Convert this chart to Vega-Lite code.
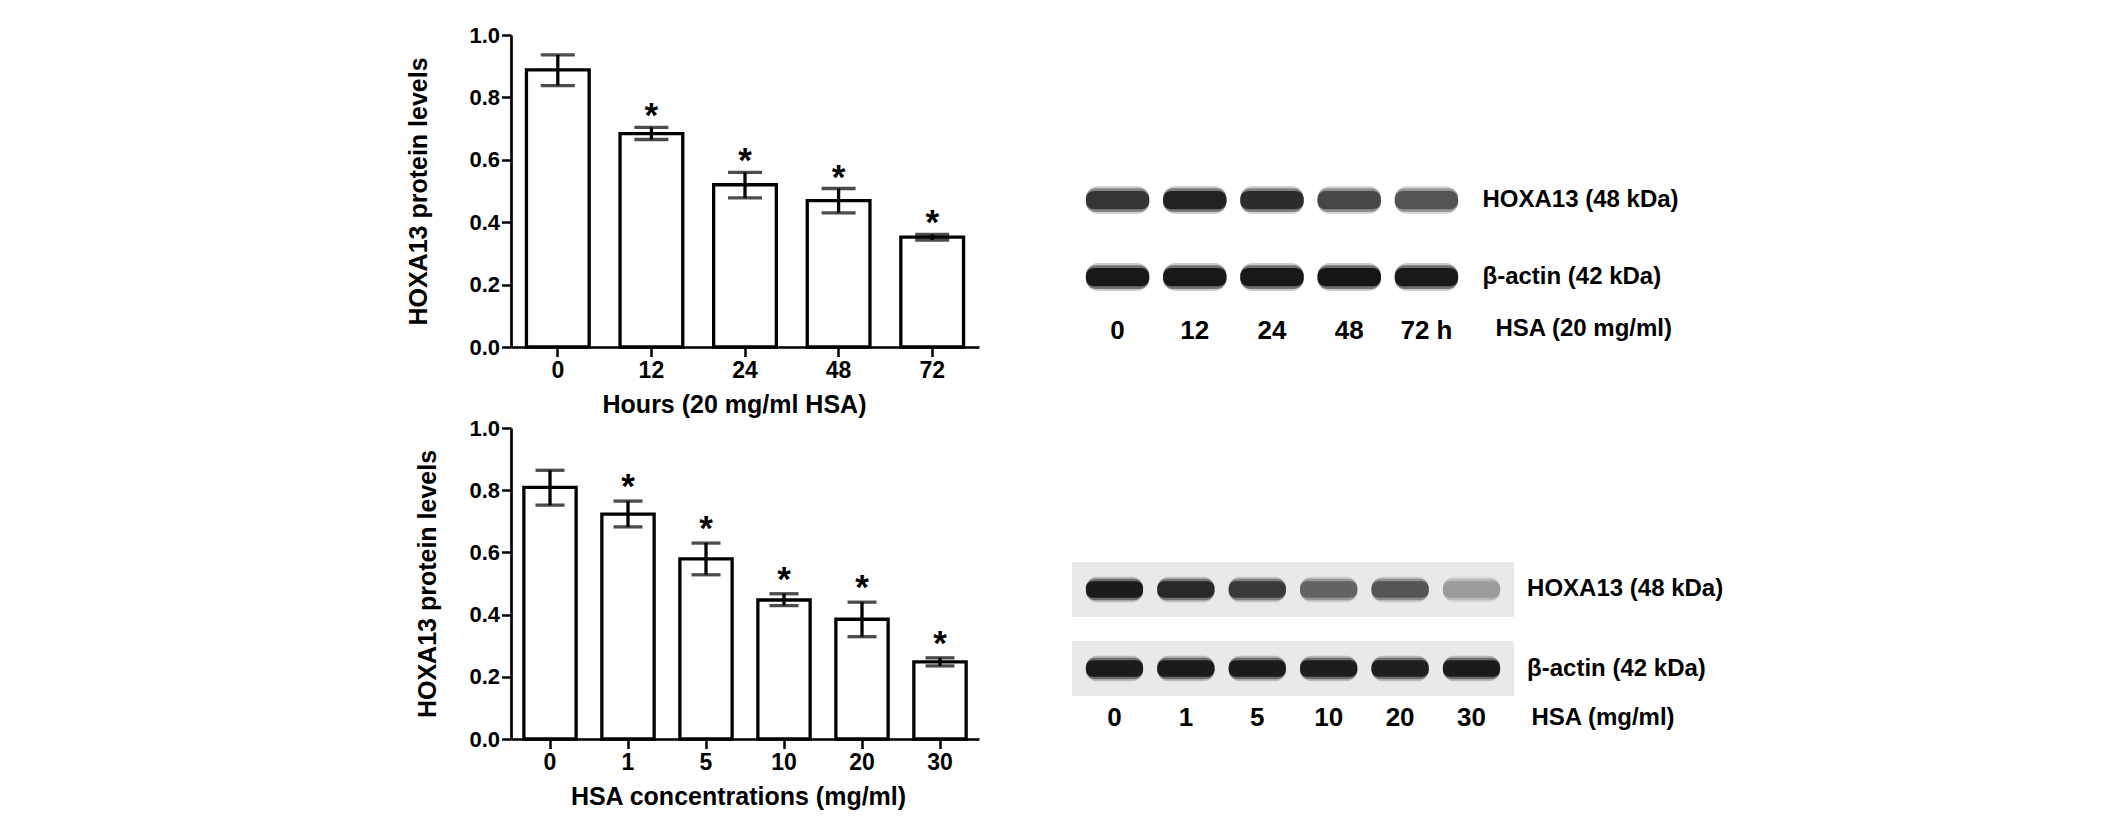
{
  "$schema": "https://vega.github.io/schema/vega-lite/v6.json",
  "background": "white",
  "padding": {"left": 406, "top": 24, "right": 5, "bottom": 5},
  "columns": 2,
  "bounds": "flush",
  "align": "each",
  "spacing": {"row": 81, "column": 93},
  "config": {
    "view": {"stroke": null},
    "font": "Liberation Sans",
    "axis": {
      "labelFont": "Liberation Sans", "titleFont": "Liberation Sans",
      "labelFontWeight": "bold", "titleFontWeight": "bold",
      "labelColor": "black", "titleColor": "black",
      "domainColor": "black", "tickColor": "black", "grid": false, "labelLimit": 400
    },
    "text": {"font": "Liberation Sans"}
  },
  "datasets": {
    "time": [
      {"group": "0", "mean": 0.888, "lo": 0.838, "hi": 0.936, "sig": ""},
      {"group": "12", "mean": 0.684, "lo": 0.665, "hi": 0.704, "sig": "*"},
      {"group": "24", "mean": 0.52, "lo": 0.478, "hi": 0.56, "sig": "*"},
      {"group": "48", "mean": 0.469, "lo": 0.43, "hi": 0.508, "sig": "*"},
      {"group": "72", "mean": 0.352, "lo": 0.343, "hi": 0.361, "sig": "*"}
    ],
    "conc": [
      {"group": "0", "mean": 0.809, "lo": 0.752, "hi": 0.864, "sig": ""},
      {"group": "1", "mean": 0.723, "lo": 0.682, "hi": 0.765, "sig": "*"},
      {"group": "5", "mean": 0.579, "lo": 0.528, "hi": 0.63, "sig": "*"},
      {"group": "10", "mean": 0.447, "lo": 0.429, "hi": 0.467, "sig": "*"},
      {"group": "20", "mean": 0.385, "lo": 0.329, "hi": 0.44, "sig": "*"},
      {"group": "30", "mean": 0.248, "lo": 0.235, "hi": 0.261, "sig": "*"}
    ],
    "blot_time": [
      {"lane": "0", "protein": "HOXA13 (48 kDa)", "density": 0.78},
      {"lane": "12", "protein": "HOXA13 (48 kDa)", "density": 0.87},
      {"lane": "24", "protein": "HOXA13 (48 kDa)", "density": 0.82},
      {"lane": "48", "protein": "HOXA13 (48 kDa)", "density": 0.7},
      {"lane": "72 h", "protein": "HOXA13 (48 kDa)", "density": 0.64},
      {"lane": "0", "protein": "β-actin (42 kDa)", "density": 0.92},
      {"lane": "12", "protein": "β-actin (42 kDa)", "density": 0.92},
      {"lane": "24", "protein": "β-actin (42 kDa)", "density": 0.92},
      {"lane": "48", "protein": "β-actin (42 kDa)", "density": 0.93},
      {"lane": "72 h", "protein": "β-actin (42 kDa)", "density": 0.91}
    ],
    "blot_conc": [
      {"lane": "0", "protein": "HOXA13 (48 kDa)", "density": 0.9},
      {"lane": "1", "protein": "HOXA13 (48 kDa)", "density": 0.84},
      {"lane": "5", "protein": "HOXA13 (48 kDa)", "density": 0.76},
      {"lane": "10", "protein": "HOXA13 (48 kDa)", "density": 0.58},
      {"lane": "20", "protein": "HOXA13 (48 kDa)", "density": 0.64},
      {"lane": "30", "protein": "HOXA13 (48 kDa)", "density": 0.36},
      {"lane": "0", "protein": "β-actin (42 kDa)", "density": 0.9},
      {"lane": "1", "protein": "β-actin (42 kDa)", "density": 0.9},
      {"lane": "5", "protein": "β-actin (42 kDa)", "density": 0.9},
      {"lane": "10", "protein": "β-actin (42 kDa)", "density": 0.89},
      {"lane": "20", "protein": "β-actin (42 kDa)", "density": 0.88},
      {"lane": "30", "protein": "β-actin (42 kDa)", "density": 0.9}
    ],
    "membranes": [
      {"protein": "HOXA13 (48 kDa)"},
      {"protein": "β-actin (42 kDa)"}
    ]
  },
  "concat": [
    {
      "width": 468, "height": 312,
      "data": {"name": "time"},
      "encoding": {
        "x": {"field": "group", "type": "ordinal", "sort": null,
          "scale": {"paddingInner": 0.33, "paddingOuter": 0.165},
          "axis": {"title": "Hours (20 mg/ml HSA)", "labelAngle": 0, "labelFontSize": 23, "titleFontSize": 25,
            "tickSize": 9.5, "tickWidth": 2.5, "domainWidth": 2.7, "labelPadding": 3, "titlePadding": 10,
            "titleX": 223, "titleAlign": "center"}}
      },
      "layer": [
        {"mark": {"type": "bar", "fill": "white", "stroke": "black", "strokeWidth": 3.3},
          "encoding": {"y": {"field": "mean", "type": "quantitative", "scale": {"domain": [0, 1]},
            "axis": {"title": "HOXA13 protein levels", "values": [0, 0.2, 0.4, 0.6, 0.8, 1], "format": ".1f",
              "labelFontSize": 22, "titleFontSize": 25, "tickSize": 9.5, "tickWidth": 2.5, "domainWidth": 2.7,
              "labelPadding": 2, "titlePadding": 37.6}}}},
        {"mark": {"type": "rule", "color": "black", "strokeWidth": 3.3},
          "encoding": {"y": {"field": "lo", "type": "quantitative", "title": "HOXA13 protein levels"}, "y2": {"field": "hi"}}},
        {"mark": {"type": "tick", "orient": "horizontal", "color": "black", "size": 34, "thickness": 3.3},
          "encoding": {"y": {"field": "lo", "type": "quantitative", "title": "HOXA13 protein levels"}}},
        {"mark": {"type": "tick", "orient": "horizontal", "color": "black", "size": 34, "thickness": 3.3},
          "encoding": {"y": {"field": "hi", "type": "quantitative", "title": "HOXA13 protein levels"}}},
        {"mark": {"type": "text", "color": "black", "fontSize": 35, "fontWeight": "bold", "baseline": "alphabetic", "dy": 0},
          "encoding": {"y": {"field": "hi", "type": "quantitative", "title": "HOXA13 protein levels"}, "text": {"field": "sig"}}}
      ]
    },
    {
      "width": 400, "height": 269,
      "data": {"name": "blot_time"},
      "encoding": {
        "x": {"field": "lane", "type": "ordinal", "sort": null,
          "scale": {"paddingInner": 0.18, "paddingOuter": 0.18},
          "axis": {"orient": "bottom", "domain": false, "ticks": false, "tickSize": 0, "labelPadding": 13,
            "labelFontSize": 26, "labelAngle": 0, "title": "HSA (20 mg/ml)", "titleX": 423, "titleY": 24,
            "titleAlign": "left", "titleBaseline": "middle", "titleFontSize": 24, "titleAngle": 0}},
        "y": {"field": "protein", "type": "nominal", "sort": null,
          "scale": {"paddingInner": 0.3, "paddingOuter": 0.8968, "align": 1},
          "axis": {"orient": "right", "domain": false, "ticks": false, "tickSize": 0, "labelPadding": 10,
            "labelFontSize": 24, "labelAlign": "left", "title": null}},
        "color": {"field": "density", "type": "quantitative",
          "scale": {"domain": [0, 1], "range": ["#ffffff", "#000000"]}, "legend": null}
      },
      "layer": [
        {"mark": {"type": "rect", "cornerRadius": 12, "height": {"band": 0.52}, "fillOpacity": 0.22}},
        {"mark": {"type": "rect", "cornerRadius": 10, "height": {"band": 0.44}, "fillOpacity": 0.5}},
        {"mark": {"type": "rect", "cornerRadius": 8, "height": {"band": 0.34}}}
      ]
    },
    {
      "width": 468, "height": 311,
      "data": {"name": "conc"},
      "encoding": {
        "x": {"field": "group", "type": "ordinal", "sort": null,
          "scale": {"paddingInner": 0.33, "paddingOuter": 0.165},
          "axis": {"title": "HSA concentrations (mg/ml)", "labelAngle": 0, "labelFontSize": 23, "titleFontSize": 25,
            "tickSize": 9.5, "tickWidth": 2.5, "domainWidth": 2.7, "labelPadding": 3, "titlePadding": 10,
            "titleX": 227, "titleAlign": "center"}}
      },
      "layer": [
        {"mark": {"type": "bar", "fill": "white", "stroke": "black", "strokeWidth": 3.3},
          "encoding": {"y": {"field": "mean", "type": "quantitative", "scale": {"domain": [0, 1]},
            "axis": {"title": "HOXA13 protein levels", "values": [0, 0.2, 0.4, 0.6, 0.8, 1], "format": ".1f",
              "labelFontSize": 22, "titleFontSize": 25, "tickSize": 9.5, "tickWidth": 2.5, "domainWidth": 2.7,
              "labelPadding": 2, "titlePadding": 28.6}}}},
        {"mark": {"type": "rule", "color": "black", "strokeWidth": 3.3},
          "encoding": {"y": {"field": "lo", "type": "quantitative", "title": "HOXA13 protein levels"}, "y2": {"field": "hi"}}},
        {"mark": {"type": "tick", "orient": "horizontal", "color": "black", "size": 29, "thickness": 3.3},
          "encoding": {"y": {"field": "lo", "type": "quantitative", "title": "HOXA13 protein levels"}}},
        {"mark": {"type": "tick", "orient": "horizontal", "color": "black", "size": 29, "thickness": 3.3},
          "encoding": {"y": {"field": "hi", "type": "quantitative", "title": "HOXA13 protein levels"}}},
        {"mark": {"type": "text", "color": "black", "fontSize": 35, "fontWeight": "bold", "baseline": "alphabetic", "dy": -3},
          "encoding": {"y": {"field": "hi", "type": "quantitative", "title": "HOXA13 protein levels"}, "text": {"field": "sig"}}}
      ]
    },
    {
      "width": 442, "height": 268,
      "layer": [
        {"data": {"name": "membranes"},
          "mark": {"type": "rect", "fill": "#e9e9e9"},
          "encoding": {
            "y": {"field": "protein", "type": "nominal", "sort": null,
              "scale": {"paddingInner": 0.304, "paddingOuter": 0.848, "align": 1},
              "axis": {"orient": "right", "domain": false, "ticks": false, "tickSize": 0, "labelPadding": 12.6,
                "labelFontSize": 24, "labelAlign": "left", "title": null}}
          }},
        {"data": {"name": "blot_conc"},
          "encoding": {
            "x": {"field": "lane", "type": "ordinal", "sort": null,
              "scale": {"paddingInner": 0.2, "paddingOuter": 0.195},
              "axis": {"orient": "bottom", "domain": false, "ticks": false, "tickSize": 0, "labelPadding": 8,
                "labelFontSize": 26, "labelAngle": 0, "title": "HSA (mg/ml)", "titleX": 459, "titleY": 21,
                "titleAlign": "left", "titleBaseline": "middle", "titleFontSize": 24, "titleAngle": 0}},
            "y": {"field": "protein", "type": "nominal", "sort": null,
              "scale": {"paddingInner": 0.304, "paddingOuter": 0.848, "align": 1},
              "axis": {"orient": "right", "domain": false, "ticks": false, "tickSize": 0, "labelPadding": 12.6,
                "labelFontSize": 24, "labelAlign": "left", "title": null}},
            "color": {"field": "density", "type": "quantitative",
              "scale": {"domain": [0, 1], "range": ["#ffffff", "#000000"]}, "legend": null}
          },
          "layer": [
            {"mark": {"type": "rect", "cornerRadius": 11, "height": {"band": 0.46}, "fillOpacity": 0.22}},
            {"mark": {"type": "rect", "cornerRadius": 9, "height": {"band": 0.39}, "fillOpacity": 0.5}},
            {"mark": {"type": "rect", "cornerRadius": 7, "height": {"band": 0.3}}}
          ]}
      ]
    }
  ]
}
